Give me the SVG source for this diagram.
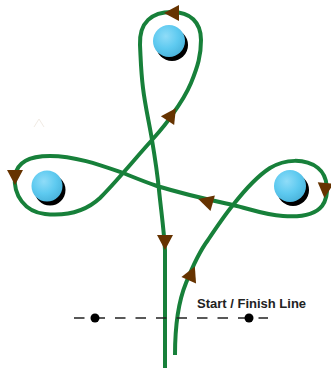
<svg xmlns="http://www.w3.org/2000/svg" width="331" height="374" viewBox="0 0 331 374">
<style>
.track{fill:none;stroke:#17803a;stroke-width:4;stroke-linecap:butt;stroke-linejoin:round}
.arrow{fill:#663300}
.ball{fill:url(#ballGrad)}
.shadow{fill:#000}
.dash{stroke:#222;stroke-width:1.6;stroke-dasharray:10.5 10}
.dot{fill:#000}
.label{font-family:"Liberation Sans",Arial,sans-serif;font-weight:bold;font-size:13px;fill:#222}
</style>
<defs>
<radialGradient id="ballGrad" cx="0.4" cy="0.35" r="0.65">
<stop offset="0" stop-color="#8fdcf8"/>
<stop offset="0.6" stop-color="#5ecaf0"/>
<stop offset="1" stop-color="#4cb6de"/>
</radialGradient>
<polygon id="arr" points="7,0 -8,-8 -8,8"/>
</defs>
<polyline points="34,127 39,119 44,127" fill="none" stroke="#f1ebe4" stroke-width="1"/>
<g id="connectors">
<path class="track" d="M175,355 C175,325 179,300 186,283 C192,268 199,252 208,240 C216,228 224,216 233,205 C244,191 256,177 270,168 C285,159 305,158 318,168 C328,176 330,195 322,206 C314,216 296,217 283,216 C265,215 250,209 233,205 C215,201 190,196 157,186 C145,182 133,177 123,173 C100,165 75,156 50,156 C30,156 17,162 15,176 C13,195 25,212 45,214 C65,216 85,212 100,198 C108,190 116,181 123,173 C132,163 141,152 152,140 C160,131 167,123 172,115 C180,104 186,95 191,83 C198,66 201,55 201,40 C201,22 190,12 172,12 C152,12 139,22 140,45 C141,65 141,72 143,88 C145,105 149,122 152,140 C155,158 157,170 159,190 C161,210 164,230 165,250 L165,368"/>
</g>
<g id="arrows">
<use href="#arr" class="arrow" transform="translate(192,273) rotate(-66)"/>
<use href="#arr" class="arrow" transform="translate(325,191) rotate(95)"/>
<use href="#arr" class="arrow" transform="translate(205,201) rotate(196)"/>
<use href="#arr" class="arrow" transform="translate(15,178) rotate(90)"/>
<use href="#arr" class="arrow" transform="translate(172,114) rotate(-56)"/>
<use href="#arr" class="arrow" transform="translate(171,13) rotate(180)"/>
<use href="#arr" class="arrow" transform="translate(165,243) rotate(90)"/>
</g>
<g id="ball-top">
<circle class="shadow" cx="172" cy="45" r="16"/>
<circle class="ball" cx="169" cy="41" r="16"/>
</g>
<g id="ball-left">
<circle class="shadow" cx="50" cy="190" r="15.5"/>
<circle class="ball" cx="47" cy="186" r="15.5"/>
</g>
<g id="ball-right">
<circle class="shadow" cx="293" cy="190" r="16"/>
<circle class="ball" cx="290" cy="186" r="16"/>
</g>
<g id="start-finish">
<line class="dash" x1="74" y1="318" x2="268" y2="318"/>
<circle class="dot" cx="95" cy="318" r="4.5"/>
<circle class="dot" cx="249" cy="318" r="4.5"/>
<text class="label" x="197" y="308">Start / Finish Line</text>
</g>
</svg>
